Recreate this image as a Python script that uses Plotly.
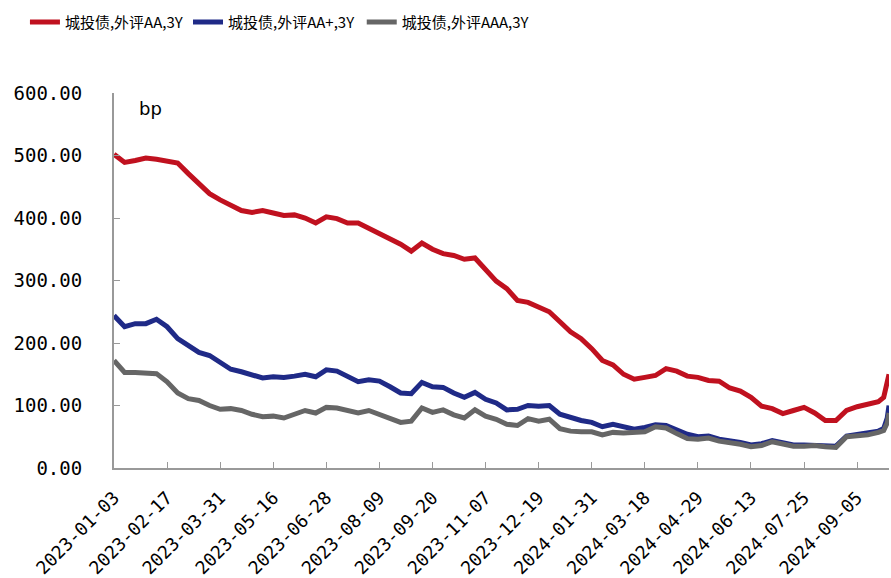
import plotly.graph_objects as go

# trading-day index of each sampled point (x axis is in trading days since 2023-01-03)
day_idx = [0, 6, 12, 18, 24, 30, 36, 42, 48, 54, 60, 66, 72, 78, 84, 90, 96, 102, 108, 114,
           120, 126, 132, 138, 144, 150, 156, 162, 168, 174, 180, 186, 192, 198, 204, 210, 216,
           222, 228, 234, 240, 246, 252, 258, 264, 270, 276, 282, 288, 294, 300, 306, 312, 318,
           324, 330, 336, 342, 348, 354, 360, 366, 372, 378, 384, 390, 396, 402, 408, 414, 420,
           426, 432, 435, 437, 438]

aa = [502, 489, 492, 496, 494, 490, 488, 471, 455, 439, 429, 421, 412, 409, 412, 408, 404, 405,
      400, 392, 402, 399, 392, 392, 384, 376, 368, 358, 347, 360, 350, 343, 340, 334, 336, 318,
      299, 287, 268, 265, 257, 250, 234, 218, 207, 191, 172, 165, 150, 142, 145, 148, 159, 155,
      147, 145, 140, 139, 128, 123, 113, 99, 95, 87, 92, 97, 88, 76, 76, 92, 98, 102, 106, 113,
      135, 150]

aa_plus = [244, 226, 231, 231, 238, 226, 207, 196, 185, 180, 170, 158, 154, 148, 144, 146, 145,
           147, 150, 146, 157, 155, 146, 138, 141, 139, 130, 120, 119, 137, 130, 129, 120, 113,
           121, 110, 104, 93, 94, 100, 99, 100, 86, 80, 76, 73, 66, 70, 67, 62, 65, 69, 68, 60,
           54, 50, 51, 46, 44, 41, 37, 39, 44, 41, 37, 37, 37, 36, 35, 51, 53, 55, 59, 63, 80, 100]

aaa = [172, 153, 153, 151, 151, 138, 120, 111, 108, 100, 94, 95, 92, 86, 82, 83, 80, 86, 92, 88,
       97, 96, 91, 88, 92, 85, 79, 73, 75, 96, 89, 93, 85, 80, 93, 83, 78, 70, 68, 79, 75, 78, 63,
       59, 58, 58, 53, 57, 56, 56, 58, 66, 64, 55, 47, 46, 48, 43, 41, 38, 34, 36, 42, 39, 35, 35,
       36, 34, 33, 50, 51, 53, 57, 60, 72, 88]

tick_idx = [0, 30, 60, 90, 120, 150, 180, 210, 240, 270, 300, 330, 360, 390, 420]
tick_labels = ["2023-01-03", "2023-02-17", "2023-03-31", "2023-05-16", "2023-06-28",
               "2023-08-09", "2023-09-20", "2023-11-07", "2023-12-19", "2024-01-31",
               "2024-03-18", "2024-04-29", "2024-06-13", "2024-07-25", "2024-09-05"]

y_ticks = [0, 100, 200, 300, 400, 500, 600]
y_labels = ["0.00", "100.00", "200.00", "300.00", "400.00", "500.00", "600.00"]

series = [
    ("城投债,外评AA,3Y", aa, "#C0111F", "legend", 0.028),
    ("城投债,外评AA+,3Y", aa_plus, "#1F2A87", "legend2", 0.211),
    ("城投债,外评AAA,3Y", aaa, "#666666", "legend3", 0.406),
]

font_cjk = "Noto Sans CJK SC, DejaVu Sans, sans-serif"
font_num = "DejaVu Sans Mono, Liberation Mono, monospace"

fig = go.Figure()
legends = {}
for name, vals, color, leg, lx in series:
    fig.add_trace(go.Scatter(x=day_idx, y=vals, mode="lines", name=name, legend=leg,
                             line=dict(color=color, width=5)))
    legends[leg] = dict(orientation="h", xref="container", yref="container",
                        x=lx, y=0.99, xanchor="left", yanchor="top",
                        font=dict(size=15, family=font_cjk), itemwidth=30,
                        bgcolor="rgba(0,0,0,0)")

fig.update_layout(
    width=891, height=578,
    margin=dict(l=114, r=2, t=93, b=110),
    paper_bgcolor="white", plot_bgcolor="white",
    font=dict(family=font_cjk, color="#000000"),
    showlegend=True,
    **legends,
    xaxis=dict(range=[0, 438], tickmode="array", tickvals=tick_idx, ticktext=tick_labels,
               tickangle=-45, ticks="inside", ticklen=6, tickcolor="#999999",
               showline=True, linecolor="#999999", linewidth=2, showgrid=False,
               zeroline=False, ticklabelstandoff=10, automargin=False,
               tickfont=dict(size=18, family=font_num)),
    yaxis=dict(range=[0, 600], tickmode="array", tickvals=y_ticks, ticktext=y_labels,
               ticks="inside", ticklen=6, tickcolor="#999999",
               showline=True, linecolor="#999999", linewidth=2, showgrid=False,
               zeroline=False, ticklabelstandoff=26, automargin=False,
               tickfont=dict(size=19, family=font_num)),
    annotations=[dict(text="bp", xref="paper", yref="paper", x=0.03, y=0.96,
                      xanchor="left", yanchor="middle", showarrow=False,
                      font=dict(size=18, family="DejaVu Sans"))],
)

fig.write_html("out.html")
